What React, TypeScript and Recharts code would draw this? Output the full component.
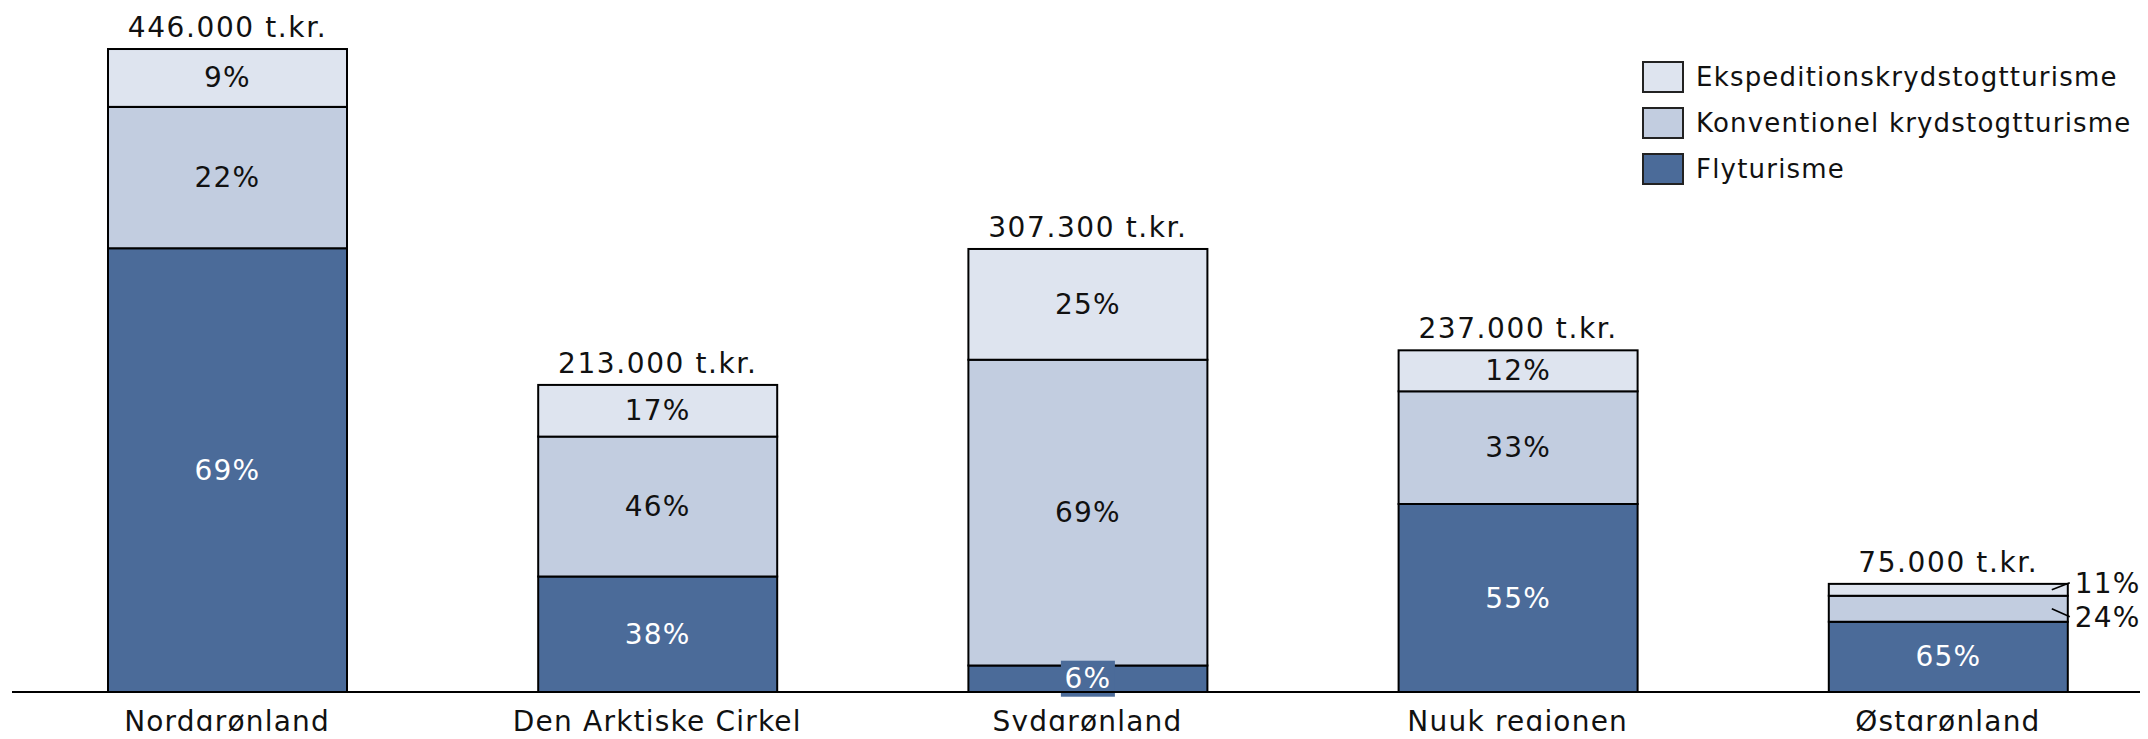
import React from "react";
import { BarChart, Bar, XAxis, YAxis, LabelList } from "recharts";

const categories = [
  "Nordgrønland",
  "Den Arktiske Cirkel",
  "Sydgrønland",
  "Nuuk regionen",
  "Østgrønland",
];
// total per region, t.kr.
const totals = [446000, 213000, 307300, 237000, 75000];
// shares in percent as printed in the bars
const flyPct = [69, 38, 6, 55, 65];
const konvPct = [22, 46, 69, 33, 24];
const ekspPct = [9, 17, 25, 12, 11];

const seriesNames = {
  eksp: "Ekspeditionskrydstogtturisme",
  konv: "Konventionel krydstogtturisme",
  fly: "Flyturisme",
};

const colors = {
  fly: "#4b6b99",
  konv: "#c2cde0",
  eksp: "#dee4ef",
};

const FONT = "'DejaVu Sans', sans-serif";
const TEXT = "#111";

const data = categories.map((name, i) => {
  const sum = flyPct[i] + konvPct[i] + ekspPct[i];
  return {
    name,
    total: totals[i],
    fly: (totals[i] * flyPct[i]) / sum,
    konv: (totals[i] * konvPct[i]) / sum,
    eksp: (totals[i] * ekspPct[i]) / sum,
    flyPct: flyPct[i],
    konvPct: konvPct[i],
    ekspPct: ekspPct[i],
  };
});

const fmt = (v: number) => String(v).replace(/\B(?=(\d{3})+(?!\d))/g, ".");

const txt = {
  fontFamily: FONT,
  fontSize: 28,
  letterSpacing: 1.2,
};

// top segment: draws its rect plus all the percent labels of the stack,
// so the labels end up above every segment
const TopShape = (props: any) => {
  const { x, y, width, height, payload } = props;
  const unit = height / payload.eksp;
  const base = y + payload.total * unit;
  const cx = x + width / 2;
  const flyH = payload.fly * unit;
  const konvH = payload.konv * unit;
  const flyMid = base - flyH / 2;
  const konvMid = base - flyH - konvH / 2;
  const ekspMid = y + height / 2;
  const outside = height < 20;
  const right = x + width;
  return (
    <g>
      <rect x={x} y={y} width={width} height={height} fill={colors.eksp} stroke="#000" strokeWidth={2} />
      {flyH < 30 ? (
        <g>
          <rect x={cx - 27} y={flyMid - 18} width={54} height={36} fill={colors.fly} />
          <text x={cx} y={flyMid} textAnchor="middle" dominantBaseline="central" fill="#fff" style={txt}>
            {payload.flyPct}%
          </text>
        </g>
      ) : (
        <text x={cx} y={flyMid} textAnchor="middle" dominantBaseline="central" fill="#fff" style={txt}>
          {payload.flyPct}%
        </text>
      )}
      {outside ? (
        <g>
          <line x1={right - 16} y1={konvMid} x2={right + 2} y2={konvMid + 8} stroke="#000" strokeWidth={1.5} />
          <text x={right + 7} y={konvMid + 9} dominantBaseline="central" fill={TEXT} style={txt}>
            {payload.konvPct}%
          </text>
          <line x1={right - 16} y1={ekspMid} x2={right + 2} y2={ekspMid - 7} stroke="#000" strokeWidth={1.5} />
          <text x={right + 7} y={ekspMid - 6} dominantBaseline="central" fill={TEXT} style={txt}>
            {payload.ekspPct}%
          </text>
        </g>
      ) : (
        <g>
          <text x={cx} y={konvMid} textAnchor="middle" dominantBaseline="central" fill={TEXT} style={txt}>
            {payload.konvPct}%
          </text>
          <text x={cx} y={ekspMid} textAnchor="middle" dominantBaseline="central" fill={TEXT} style={txt}>
            {payload.ekspPct}%
          </text>
        </g>
      )}
    </g>
  );
};

const legendOrder: ("eksp" | "konv" | "fly")[] = ["eksp", "konv", "fly"];

const ChartLegend = () => (
  <div
    style={{
      position: "absolute",
      left: 1642,
      top: 54,
      fontFamily: FONT,
      fontSize: 26,
      letterSpacing: 1.2,
      color: TEXT,
      whiteSpace: "nowrap",
    }}
  >
    {legendOrder.map((k) => (
      <div key={k} style={{ display: "flex", alignItems: "center", height: 46 }}>
        <div
          style={{
            width: 38,
            height: 28,
            background: colors[k],
            border: "2px solid #222",
            marginRight: 12,
          }}
        />
        <span>{seriesNames[k]}</span>
      </div>
    ))}
  </div>
);

export default function App() {
  return (
    <div
      style={{
        position: "relative",
        margin: -8,
        width: 2148,
        height: 739,
        overflow: "hidden",
        background: "#fff",
      }}
    >
      <BarChart
        width={2163}
        height={739}
        data={data}
        margin={{ top: 0, right: 0, left: 12, bottom: 0 }}
        barSize={239}
      >
        <XAxis
          dataKey="name"
          interval={0}
          height={47}
          tickLine={false}
          tickSize={0}
          tickMargin={19}
          axisLine={{ stroke: "#000", strokeWidth: 2 }}
          tick={{ fill: TEXT, fontSize: 28, fontFamily: FONT, letterSpacing: 1.2 }}
        />
        <YAxis hide domain={[0, 480000]} />
        <Bar dataKey="fly" stackId="a" fill={colors.fly} stroke="#000" strokeWidth={2} isAnimationActive={false} />
        <Bar dataKey="konv" stackId="a" fill={colors.konv} stroke="#000" strokeWidth={2} isAnimationActive={false} />
        <Bar dataKey="eksp" stackId="a" fill={colors.eksp} shape={TopShape} isAnimationActive={false}>
          <LabelList
            dataKey="total"
            position="top"
            offset={12}
            formatter={(v: any) => `${fmt(Number(v))} t.kr.`}
            style={{ fill: TEXT, fontSize: 28, fontFamily: FONT, letterSpacing: 1.6 }}
          />
        </Bar>
      </BarChart>
      <ChartLegend />
    </div>
  );
}
